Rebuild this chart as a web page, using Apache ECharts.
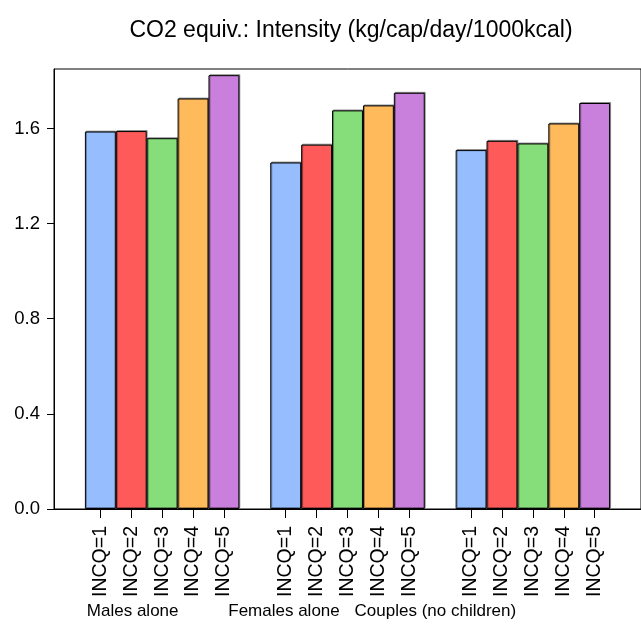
<!DOCTYPE html>
<html>
<head>
<meta charset="utf-8">
<script src="https://cdn.jsdelivr.net/npm/echarts@6/dist/echarts.min.js"></script>
<style>
html,body{margin:0;padding:0;background:#fff;}
#chart{width:641px;height:626px;}
</style>
</head>
<body>
<div id="chart"></div>
<script>
var titleText = 'CO2 equiv.: Intensity (kg/cap/day/1000kcal)';
var groups = ['Males alone', 'Females alone', 'Couples (no children)'];
var incomeLevels = ['INCQ=1', 'INCQ=2', 'INCQ=3', 'INCQ=4', 'INCQ=5'];
var malesAlone = [1.587, 1.589, 1.559, 1.726, 1.824];
var femalesAlone = [1.457, 1.532, 1.676, 1.697, 1.750];
var couplesNoChildren = [1.509, 1.548, 1.537, 1.621, 1.707];
var yTicks = [0, 0.4, 0.8, 1.2, 1.6];
var yMax = 1.85;
var barColors = ['#96BEFF', '#FF5A5A', '#86DE7A', '#FFBA5C', '#C880DC'];

var groupValues = [malesAlone, femalesAlone, couplesNoChildren];

// Category slots: blank spacer, 5 bars, blank, 5 bars, blank, 5 bars, blank
var categories = [];
var barData = [];
groupValues.forEach(function (vals) {
  categories.push('');
  barData.push('-');
  vals.forEach(function (v, j) {
    categories.push(incomeLevels[j]);
    barData.push({ value: v, itemStyle: { color: barColors[j] } });
  });
});
categories.push('');
barData.push('-');

var font = 'Liberation Sans, Arial, sans-serif';
var chart = echarts.init(document.getElementById('chart'));
chart.setOption({
  animation: false,
  backgroundColor: '#fff',
  title: {
    text: titleText,
    left: 346,
    textAlign: 'center',
    top: 14,
    textStyle: { fontFamily: font, fontSize: 23, fontWeight: 'normal', color: '#000' }
  },
  grid: [
    { left: 54, top: 69, width: 588, height: 440, show: true, borderColor: '#000', borderWidth: 1, containLabel: false },
    { left: 57, top: 598, width: 454, height: 1, show: false }
  ],
  xAxis: [
    {
      type: 'category',
      gridIndex: 0,
      data: categories,
      axisLine: { show: true, lineStyle: { color: '#000', width: 1 } },
      axisTick: {
        show: true,
        alignWithLabel: true,
        length: 9,
        interval: function (i, v) { return v !== ''; },
        lineStyle: { color: '#000' }
      },
      axisLabel: {
        rotate: 90,
        interval: 0,
        margin: 17,
        fontFamily: font,
        fontSize: 19.5,
        color: '#000'
      },
      splitLine: { show: false }
    },
    {
      type: 'category',
      gridIndex: 1,
      data: groups,
      axisLine: { show: false },
      axisTick: { show: false },
      axisLabel: { interval: 0, margin: 4, fontFamily: font, fontSize: 17, color: '#000' }
    }
  ],
  yAxis: [
    {
      type: 'value',
      gridIndex: 0,
      min: 0,
      max: yMax,
      axisLine: { show: true, lineStyle: { color: '#000', width: 1 } },
      axisTick: { show: true, length: 7, customValues: yTicks, lineStyle: { color: '#000' } },
      axisLabel: {
        customValues: yTicks,
        margin: 14,
        fontFamily: font,
        fontSize: 18.5,
        color: '#000',
        formatter: function (v) { return v.toFixed(1); }
      },
      splitLine: { show: false }
    },
    { type: 'value', gridIndex: 1, show: false }
  ],
  series: [
    {
      type: 'bar',
      xAxisIndex: 0,
      yAxisIndex: 0,
      data: barData,
      barCategoryGap: 0,
      itemStyle: {
        borderColor: '#000',
        borderWidth: 1,
        shadowColor: 'rgba(0,0,0,0.35)',
        shadowOffsetX: 1,
        shadowOffsetY: -1,
        shadowBlur: 0
      }
    }
  ]
});
</script>
</body>
</html>
